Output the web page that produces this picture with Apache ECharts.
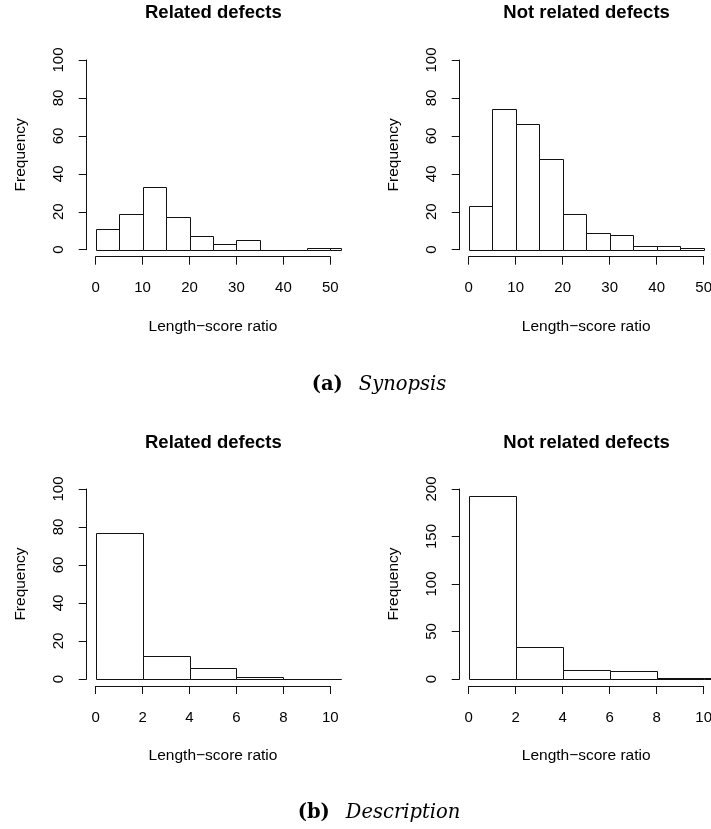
<!DOCTYPE html>
<html>
<head>
<meta charset="utf-8">
<script src="https://cdn.jsdelivr.net/npm/echarts@6/dist/echarts.min.js"></script>
<style>
html,body{margin:0;padding:0;background:#fff;}
#chart{width:711px;height:829px;}
</style>
</head>
<body>
<div id="chart"></div>
<script>
// ---- data ----
const panelTitles = ['Related defects', 'Not related defects', 'Related defects', 'Not related defects'];
const xAxisTitle = 'Length\u2212score ratio';
const yAxisTitle = 'Frequency';
const captionA = ['(a)', 'Synopsis'];
const captionB = ['(b)', 'Description'];

const synopsisRelatedBreaks = [0, 5, 10, 15, 20, 25, 30, 35, 40, 45, 50, 55];
const synopsisRelatedCounts = [11, 19, 33, 17, 7, 3, 5, 0, 0, 1, 1];
const synopsisNotRelatedBreaks = [0, 5, 10, 15, 20, 25, 30, 35, 40, 45, 50];
const synopsisNotRelatedCounts = [23, 74, 66, 48, 19, 9, 8, 2, 2, 1];
const descRelatedBreaks = [0, 2, 4, 6, 8, 10, 12];
const descRelatedCounts = [77, 12, 6, 1, 0, 0];
const descNotRelatedBreaks = [0, 2, 4, 6, 8, 10, 12];
const descNotRelatedCounts = [193, 34, 9, 8, 1, 1];

const synopsisXTicks = [0, 10, 20, 30, 40, 50];
const descXTicks = [0, 2, 4, 6, 8, 10];
const yTicks100 = [0, 20, 40, 60, 80, 100];
const yTicks200 = [0, 50, 100, 150, 200];

function toBins(breaks, counts) {
  return counts.map((c, i) => [breaks[i], breaks[i + 1], c]);
}

// ---- layout ----
const panels = [
  { bins: toBins(synopsisRelatedBreaks, synopsisRelatedCounts), xTicks: synopsisXTicks, yTicks: yTicks100,
    x0: 95.7, xScale: 4.692, xClip: 52.28, yTop: 60, yBottom: 249.7, title: panelTitles[0], titleY: 13 },
  { bins: toBins(synopsisNotRelatedBreaks, synopsisNotRelatedCounts), xTicks: synopsisXTicks, yTicks: yTicks100,
    x0: 468.7, xScale: 4.70, xClip: 52.28, yTop: 60, yBottom: 249.7, title: panelTitles[1], titleY: 13 },
  { bins: toBins(descRelatedBreaks, descRelatedCounts), xTicks: descXTicks, yTicks: yTicks100,
    x0: 95.7, xScale: 23.46, xClip: 10.456, yTop: 489, yBottom: 679, title: panelTitles[2], titleY: 443 },
  { bins: toBins(descNotRelatedBreaks, descNotRelatedCounts), xTicks: descXTicks, yTicks: yTicks200,
    x0: 468.7, xScale: 23.5, xClip: 10.456, yTop: 489, yBottom: 679, title: panelTitles[3], titleY: 443 }
];

const FONT = '"Liberation Sans", Arial, Helvetica, sans-serif';
const INK = '#111';

const grid = [], xAxis = [], yAxis = [], series = [], graphic = [];

function renderItem(params, api) {
  const cs = params.coordSys;
  const a = api.coord([api.value(0), 0]);
  const b = api.coord([api.value(1), api.value(2)]);
  const right = cs.x + cs.width;
  const xl = Math.round(a[0]) + 0.5;
  const xr = Math.round(Math.min(b[0], right)) + 0.5;
  const yb = Math.round(a[1]) + 0.5;
  const yt = Math.round(b[1]) + 0.5;
  if (xl >= right) return null;
  return {
    type: 'rect',
    shape: { x: xl, y: yt, width: xr - xl, height: yb - yt },
    style: { fill: '#fff', stroke: INK, lineWidth: 1 }
  };
}

panels.forEach((p, i) => {
  const h = p.yBottom - p.yTop;
  const ymax = p.yTicks[p.yTicks.length - 1];
  const yInt = p.yTicks[1] - p.yTicks[0];
  const xmax = p.xTicks[p.xTicks.length - 1];
  const xInt = p.xTicks[1] - p.xTicks[0];
  grid.push({ left: p.x0, top: p.yTop, width: p.xClip * p.xScale, height: h, outerBoundsMode: 'none', containLabel: false });
  grid.push({ left: p.x0, top: p.yTop, width: xmax * p.xScale, height: h, outerBoundsMode: 'none', containLabel: false });
  const gd = 2 * i, ga = 2 * i + 1;
  xAxis.push({ gridIndex: gd, type: 'value', min: 0, max: p.xClip, show: false });
  yAxis.push({
    gridIndex: gd, type: 'value', min: 0, max: ymax, interval: yInt, offset: 9,
    axisLine: { show: true, onZero: false, lineStyle: { color: INK, width: 1 } },
    axisTick: { show: true, length: 8, lineStyle: { color: INK, width: 1 } },
    axisLabel: { show: true, rotate: 90, margin: 20, color: '#000', fontSize: 15, fontFamily: FONT },
    splitLine: { show: false },
    name: yAxisTitle, nameLocation: 'middle', nameRotate: 90, nameGap: 58,
    nameTextStyle: { color: '#000', fontSize: 15.5, fontFamily: FONT }
  });
  xAxis.push({
    gridIndex: ga, type: 'value', min: 0, max: xmax, interval: xInt, offset: 7,
    axisLine: { show: true, onZero: false, lineStyle: { color: INK, width: 1 } },
    axisTick: { show: true, length: 8, lineStyle: { color: INK, width: 1 } },
    axisLabel: { show: true, margin: 24, color: '#000', fontSize: 15, fontFamily: FONT },
    splitLine: { show: false },
    name: xAxisTitle, nameLocation: 'middle', nameGap: 62,
    nameTextStyle: { color: '#000', fontSize: 15.5, fontFamily: FONT }
  });
  yAxis.push({ gridIndex: ga, type: 'value', min: 0, max: ymax, show: false });
  series.push({
    type: 'custom', xAxisIndex: gd, yAxisIndex: gd, renderItem: renderItem,
    data: p.bins, silent: true, animation: false
  });
  graphic.push({
    type: 'text', x: p.x0 - 10 + (p.xClip * p.xScale + 10) / 2, y: p.titleY,
    style: { text: p.title, fill: '#000', font: 'bold 18.5px ' + FONT, align: 'center', verticalAlign: 'middle' }
  });
});

const SERIF = '"DejaVu Serif", "Liberation Serif", serif';
function caption(parts, y) {
  return {
    type: 'text', x: 379, y: y,
    style: {
      text: '{b|' + parts[0] + '}{i|' + parts[1] + '}',
      align: 'center', verticalAlign: 'middle',
      rich: {
        b: { fontFamily: SERIF, fontWeight: 'bold', fontSize: 19.5, fill: '#000' },
        i: { fontFamily: SERIF, fontStyle: 'italic', fontSize: 19.5, fill: '#000', padding: [0, 0, 0, 16] }
      }
    }
  };
}
graphic.push(caption(captionA, 385));
graphic.push(caption(captionB, 813));

const chart = echarts.init(document.getElementById('chart'), null, { renderer: 'canvas' });
chart.setOption({
  animation: false,
  backgroundColor: '#fff',
  grid, xAxis, yAxis, series, graphic
});
</script>
</body>
</html>
